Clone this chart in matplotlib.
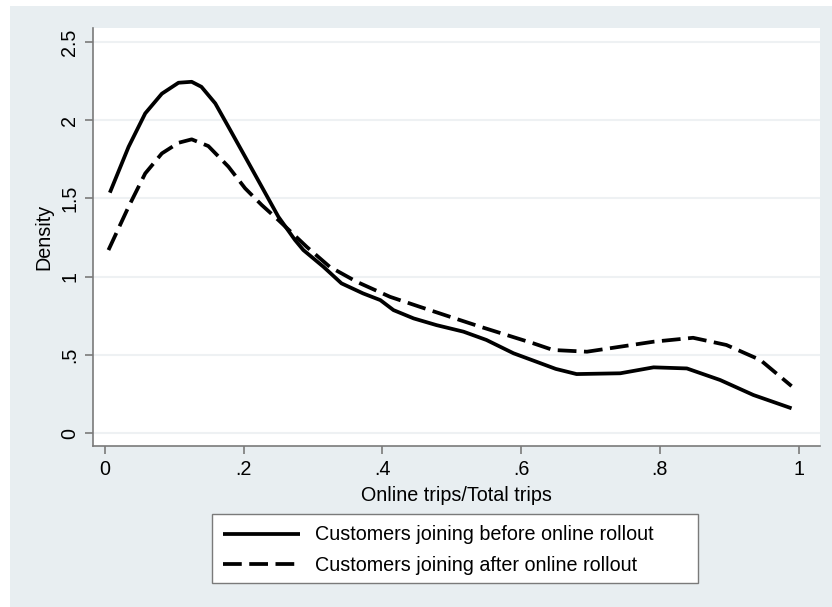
import matplotlib.pyplot as plt
from matplotlib.patches import Rectangle

plt.rcParams['font.family'] = ['Liberation Sans', 'DejaVu Sans']

## Kernel density estimates
x_before = [0.007, 0.034, 0.058, 0.082, 0.106, 0.125, 0.139, 0.159, 0.178, 0.202,
            0.226, 0.25, 0.274, 0.286, 0.315, 0.341, 0.372, 0.397, 0.416, 0.445,
            0.478, 0.517, 0.55, 0.589, 0.622, 0.65, 0.68, 0.743, 0.791, 0.839,
            0.887, 0.935, 0.99]
y_before = [1.537, 1.83, 2.044, 2.17, 2.24, 2.246, 2.214, 2.108, 1.958, 1.767,
            1.575, 1.383, 1.234, 1.17, 1.063, 0.957, 0.893, 0.85, 0.786, 0.733,
            0.69, 0.648, 0.595, 0.51, 0.456, 0.41, 0.377, 0.382, 0.42, 0.413,
            0.339, 0.243, 0.158]

x_after = [0.005, 0.034, 0.058, 0.082, 0.106, 0.125, 0.149, 0.178, 0.202, 0.226,
           0.25, 0.291, 0.324, 0.363, 0.411, 0.454, 0.497, 0.541, 0.579, 0.618,
           0.646, 0.695, 0.743, 0.791, 0.848, 0.896, 0.945, 0.99]
y_after = [1.17, 1.447, 1.66, 1.788, 1.856, 1.878, 1.835, 1.703, 1.565, 1.458,
           1.362, 1.19, 1.063, 0.967, 0.871, 0.807, 0.744, 0.68, 0.627, 0.573,
           0.531, 0.52, 0.552, 0.584, 0.609, 0.563, 0.467, 0.30]

label_before = 'Customers joining before online rollout'
label_after = 'Customers joining after online rollout'

x_ticks = [0, 0.2, 0.4, 0.6, 0.8, 1]
x_ticklabels = ['0', '.2', '.4', '.6', '.8', '1']
y_ticks = [0, 0.5, 1, 1.5, 2, 2.5]
y_ticklabels = ['0', '.5', '1', '1.5', '2', '2.5']

BG = '#e8eef1'
AXIS_GREY = '#7a7a7a'
FS = 14.2
W, H = 832, 607

fig = plt.figure(figsize=(W / 100, H / 100), dpi=100, facecolor='white')
# outer graph region (slightly inset from the image border)
fig.patches.append(Rectangle((10 / W, 0), 1 - 10 / W, 1 - 6 / H,
                             transform=fig.transFigure, facecolor=BG,
                             edgecolor='none', zorder=-5))

ax = fig.add_axes([93 / W, 1 - 446 / H, (820 - 93) / W, (446 - 28) / H])
ax.set_facecolor('white')

ax.plot(x_before, y_before, color='black', lw=2.7, solid_joinstyle='round',
        solid_capstyle='butt', label=label_before, zorder=3)
ax.plot(x_after, y_after, color='black', lw=2.7, linestyle=(0, (5, 2)),
        dash_capstyle='butt', label=label_after, zorder=3)

ax.set_xlim(-0.0173, 1.031)
ax.set_ylim(-0.083, 2.59)

ax.set_xticks(x_ticks)
ax.set_xticklabels(x_ticklabels)
ax.set_yticks(y_ticks)
ax.set_yticklabels(y_ticklabels, rotation=90, va='center')

for y in y_ticks:
    ax.axhline(y, color='#eef1f3', lw=1.5, zorder=1)

for side in ['top', 'right']:
    ax.spines[side].set_visible(False)
for side in ['left', 'bottom']:
    ax.spines[side].set_color(AXIS_GREY)
    ax.spines[side].set_linewidth(1.2)

ax.tick_params(axis='both', direction='out', length=6, width=1.2,
               color=AXIS_GREY, labelsize=FS, labelcolor='black', pad=4)

ax.set_xlabel('Online trips/Total trips', fontsize=FS, labelpad=5)
ax.set_ylabel('Density', fontsize=FS, labelpad=5)

# legend box below the plot, wider on the right than the entries need
fig.patches.append(Rectangle((212 / W, 1 - 583 / H), (698 - 212) / W, (583 - 514) / H,
                             transform=fig.transFigure, facecolor='white',
                             edgecolor=AXIS_GREY, lw=1.0, zorder=1))
leg = fig.legend(loc='upper left', bbox_to_anchor=(212 / W, 1 - 514 / H),
                 fontsize=FS, frameon=False,
                 handlelength=3.9, handletextpad=0.75, labelspacing=0.6,
                 borderpad=0.58, borderaxespad=0)
leg.set_zorder(5)

fig.savefig('out.png', dpi=100, facecolor=fig.get_facecolor())
